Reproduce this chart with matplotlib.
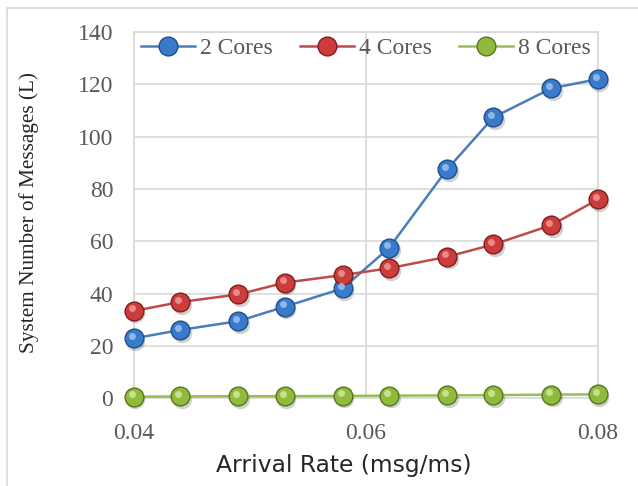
import matplotlib
matplotlib.use("Agg")
import matplotlib.pyplot as plt
import matplotlib.transforms as mtransforms
from matplotlib.patches import Rectangle

# arrival rate (msg/ms)
rate = [0.04, 0.044, 0.049, 0.053, 0.058, 0.062, 0.067, 0.071, 0.076, 0.08]
cores2 = [22.9, 26.1, 29.5, 35.0, 42.0, 57.5, 87.5, 107.4, 118.5, 122.0]
cores4 = [33.4, 36.8, 39.7, 44.2, 47.1, 49.7, 54.1, 58.8, 66.2, 76.0]
cores8 = [0.6, 0.7, 0.8, 0.8, 0.9, 1.0, 1.1, 1.2, 1.4, 1.5]
labels = ["2 Cores", "4 Cores", "8 Cores"]
xticks = [0.04, 0.06, 0.08]
yticks = [0, 20, 40, 60, 80, 100, 120, 140]

# line colour, marker face, marker edge, highlight
styles = [("#4a7ebb", "#3a7acb", "#1f4e8c", "#a9cdf5"),
          ("#be4b48", "#cc3c3a", "#7d1f1d", "#f3a5a3"),
          ("#9bbb59", "#8fba3c", "#56761d", "#d8efa7")]

fig = plt.figure(figsize=(6.38, 4.86), dpi=100)
ax = fig.add_axes([0.210, 0.1805, 0.727, 0.7535])

grid_c = "#d9d9d9"
shadow = mtransforms.offset_copy(ax.transData, fig=fig, x=1.5, y=-2.5, units="dots")
shine = mtransforms.offset_copy(ax.transData, fig=fig, x=-2.0, y=2.5, units="dots")

handles = []
for ys, lab, (lc, fc, ec, hc) in zip([cores2, cores4, cores8], labels, styles):
    ax.plot(rate, ys, "o", ms=14, color="#000000", alpha=0.18, mec="none",
            transform=shadow, zorder=3, clip_on=False)
    h, = ax.plot(rate, ys, "-o", color=lc, lw=1.8, ms=13.5, mfc=fc, mec=ec,
                 mew=1.0, zorder=4, clip_on=False, label=lab)
    ax.plot(rate, ys, "o", ms=5, color=hc, alpha=0.75, mec="none",
            transform=shine, zorder=5, clip_on=False)
    handles.append(h)

ax.set_xlim(0.04, 0.08)
ax.set_ylim(0, 140)
ax.set_xticks(xticks)
ax.set_xticklabels(["0.04", "0.06", "0.08"])
ax.set_yticks(yticks)
ax.grid(True, color=grid_c, lw=1.2)
ax.set_axisbelow(True)
for s in ax.spines.values():
    s.set_color(grid_c)
    s.set_linewidth(1.2)
ax.tick_params(length=0, labelsize=17, labelcolor="#595959")
ax.tick_params(axis="y", pad=15)
ax.tick_params(axis="x", pad=18)
for t in ax.get_xticklabels() + ax.get_yticklabels():
    t.set_fontfamily("Liberation Serif")

leg = ax.legend(handles=handles, loc="center", bbox_to_anchor=(0.5, 0.956),
                ncol=3, frameon=False, handlelength=2.3, handletextpad=0.2,
                columnspacing=1.15, borderaxespad=0,
                prop={"family": "Liberation Serif", "size": 17})
for t in leg.get_texts():
    t.set_color("#595959")

fig.text(0.046, 0.562, "System Number of Messages (L)", rotation=90,
         ha="center", va="center", fontsize=15.3, family="Liberation Serif",
         color="#262626")
fig.text(0.539, 0.029, "Arrival Rate (msg/ms)", ha="center", va="baseline",
         fontsize=16.8, family="DejaVu Sans", color="#262626")

# chart area border
fig.patches.append(Rectangle((7 / 638, -0.05), 1.1, 1.05 - 8 / 486,
                             transform=fig.transFigure, fill=False,
                             edgecolor=grid_c, lw=1.2))

fig.savefig("out.png", dpi=100)
